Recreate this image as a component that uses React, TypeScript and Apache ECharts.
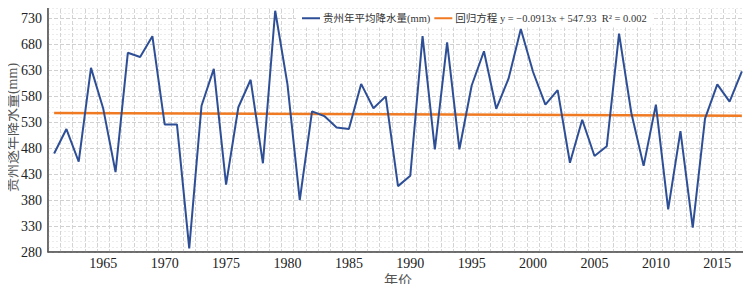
import React, { useEffect, useRef } from "react";
import * as echarts from "echarts";

const years: string[] = [];
for (let y = 1961; y <= 2017; y++) years.push(String(y));

const precipitation: number[] = [
  470, 517, 454, 635, 556, 434, 664, 656, 696, 526,
  526, 287, 562, 633, 410, 559, 612, 451, 745, 603,
  380, 551, 542, 520, 517, 604, 557, 580, 407, 427,
  696, 478, 684, 478, 601, 667, 556, 614, 710, 627,
  564, 592, 452, 535, 465, 484, 701, 548, 446, 564,
  362, 513, 327, 537, 603, 570, 628,
];

// regression line endpoints (first and last year)
const trendEnds: number[] = [547.84, 542.73];

const yTicks = { min: 280, max: 760, interval: 50 };

const seriesNames = ["贵州年平均降水量(mm)", "回归方程 y = −0.0913x + 547.93  R² = 0.002"];

const SERIF = "'Liberation Serif', 'Times New Roman', 'Noto Sans CJK SC', serif";

export default function App() {
  const ref = useRef<HTMLDivElement>(null);
  useEffect(() => {
    if (!ref.current) return;
    const chart = echarts.init(ref.current, undefined, { renderer: "svg" });
    chart.setOption({
      animation: false,
      backgroundColor: "#fff",
      textStyle: { fontFamily: SERIF },
      grid: {
        left: 48,
        right: 3,
        top: 3,
        bottom: 40,
        containLabel: false,
        outerBoundsMode: "none",
        show: true,
        borderColor: "#666",
        borderWidth: 1,
      },
      legend: {
        left: 296,
        top: 9,
        backgroundColor: "#fff",
        padding: [4, 6],
        itemGap: 4,
        itemWidth: 18,
        itemHeight: 2,
        icon: "rect",
        textStyle: { fontFamily: SERIF, fontSize: 10.5, color: "#333", padding: [0, 0, 0, -2] },
        data: seriesNames,
      },
      xAxis: {
        type: "category",
        data: years,
        boundaryGap: true,
        name: "年价",
        nameLocation: "middle",
        nameGap: 21,
        nameMoveOverlap: false,
        nameTextStyle: { fontFamily: SERIF, fontSize: 14, color: "#555" },
        axisLine: { show: true, lineStyle: { color: "#555", width: 1.5 } },
        axisTick: { show: false },
        axisLabel: {
          interval: (_i: number, v: string) => Number(v) % 5 === 0,
          fontFamily: SERIF,
          fontSize: 14,
          color: "#222",
          margin: 4,
        },
        splitLine: {
          show: true,
          interval: 0,
          lineStyle: { color: "#d4d4d4", type: [4, 2], width: 1 },
        },
      },
      yAxis: {
        type: "value",
        min: yTicks.min,
        max: yTicks.max,
        interval: yTicks.interval,
        name: "贵州逐年降水量(mm)",
        nameLocation: "middle",
        nameGap: 29,
        nameMoveOverlap: false,
        nameTextStyle: { fontFamily: SERIF, fontSize: 14, color: "#555" },
        axisLine: { show: true, lineStyle: { color: "#555", width: 1.5 } },
        axisTick: { show: false },
        axisLabel: {
          fontFamily: SERIF,
          fontSize: 14,
          color: "#222",
          margin: 6,
          showMaxLabel: false,
        },
        splitLine: { show: true, lineStyle: { color: "#d0d0d0", type: [4, 2], width: 1 } },
        minorSplitLine: { show: true, lineStyle: { color: "#ececec", type: [2, 2], width: 1 } },
        minorTick: { show: false, splitNumber: 5 },
      },
      series: [
        {
          name: seriesNames[0],
          type: "line",
          data: precipitation,
          symbol: "none",
          lineStyle: { color: "#2E4F96", width: 2 },
          itemStyle: { color: "#2E4F96" },
          z: 3,
        },
        {
          name: seriesNames[1],
          type: "line",
          data: [
            [0, trendEnds[0]],
            [years.length - 1, trendEnds[1]],
          ],
          symbol: "none",
          lineStyle: { color: "#F07A22", width: 2.5 },
          itemStyle: { color: "#F07A22" },
          z: 2,
        },
      ],
    });
    return () => chart.dispose();
  }, []);
  return <div ref={ref} style={{ width: 751, height: 292, margin: -8 }} />;
}
